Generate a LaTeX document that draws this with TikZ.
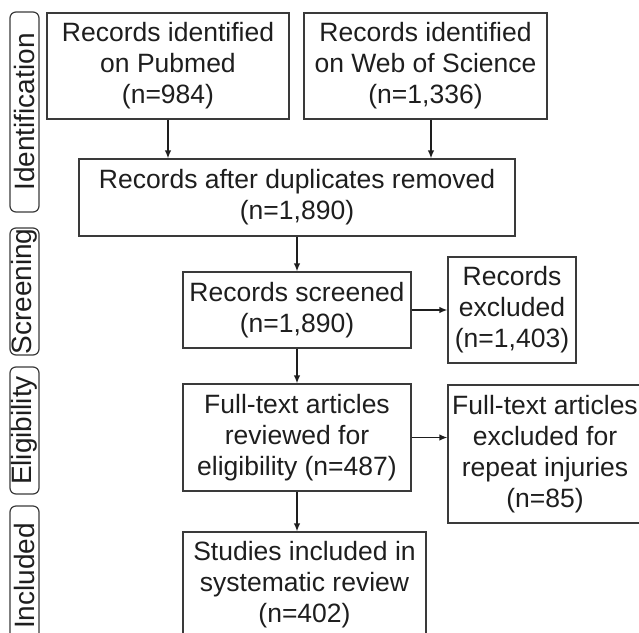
\documentclass[tikz,border=0pt]{standalone}
\usepackage{fontspec}
\setmainfont{Liberation Sans}
\usetikzlibrary{arrows.meta}
\definecolor{ink}{HTML}{1E1E1E}
\definecolor{edge}{HTML}{3A3A3A}
\tikzset{
  box/.style={draw=edge, line width=1.3pt, inner sep=0pt, align=center, text=ink,
    font=\fontsize{26.5}{31}\selectfont},
  phase/.style={draw=edge, line width=1.2pt, rounded corners=6pt, inner sep=0pt, rotate=90,
    text=ink, minimum height=29pt, font=\fontsize{28}{32}\selectfont},
  arr/.style={draw=ink, line width=1.3pt, -{Latex[length=8pt,width=6.5pt]}}
}
\begin{document}
\begin{tikzpicture}[x=1pt,y=-1pt]
\useasboundingbox (0,0) rectangle (639,632);
% phase labels
\node[phase, minimum width=200pt] (pid) at (24.5,112) {Identification};
\node[phase, minimum width=127pt] (psc) at (24.5,291.5) {Screening};
\node[phase, minimum width=127pt] (pel) at (24.5,430.5) {Eligibility};
\node[phase, minimum width=140pt] (pin) at (24.5,576) {Included};
% boxes
\node[box, minimum width=242pt, minimum height=106pt] (pub) at (168,66)
  {Records identified\\on Pubmed\\(n=984)};
\node[box, minimum width=243pt, minimum height=106pt] (wos) at (425.5,66)
  {Records identified\\on Web of Science\\(n=1,336)};
\node[box, minimum width=436pt, minimum height=77pt] (dup) at (297,197.5)
  {Records after duplicates removed\\(n=1,890)};
\node[box, minimum width=228pt, minimum height=76pt] (scr) at (297,310)
  {Records screened\\(n=1,890)};
\node[box, minimum width=128pt, minimum height=106pt] (ex1) at (512,310)
  {Records\\excluded\\(n=1,403)};
\node[box, minimum width=228pt, minimum height=107pt] (ful) at (297,437.5)
  {Full-text articles\\reviewed for\\eligibility (n=487)};
\node[box, minimum width=194pt, minimum height=138pt] (ex2) at (545,454)
  {Full-text articles\\excluded for\\repeat injuries\\(n=85)};
\node[box, minimum width=243pt, minimum height=105pt] (stu) at (304.5,584.5)
  {Studies included in\\systematic review\\(n=402)};
% connectors
\draw[arr] (pub.south) -- (pub.south |- dup.north);
\draw[arr] ([xshift=5.5pt]wos.south) -- ([xshift=5.5pt]wos.south |- dup.north);
\draw[arr] (dup.south) -- (scr.north);
\draw[arr] (scr.east) -- (ex1.west);
\draw[arr] (scr.south) -- (ful.north);
\draw[arr] (ful.east) -- (ful.east -| ex2.west);
\draw[arr] (ful.south) -- (ful.south |- stu.north);
\end{tikzpicture}
\end{document}
